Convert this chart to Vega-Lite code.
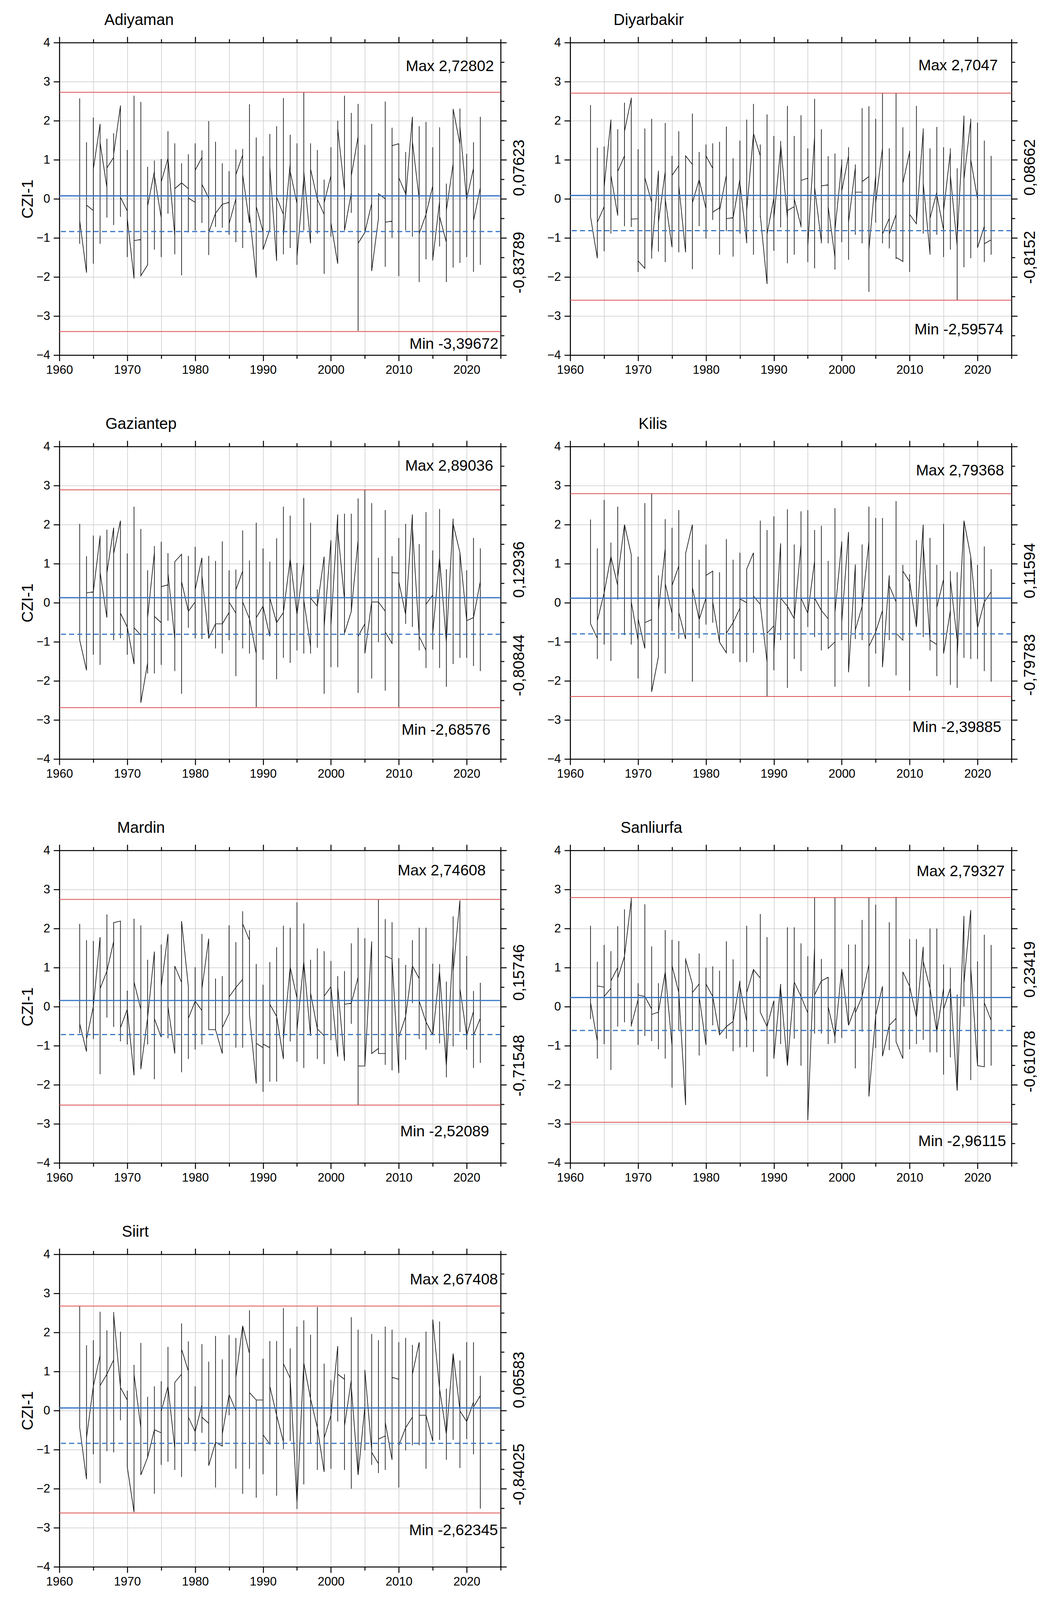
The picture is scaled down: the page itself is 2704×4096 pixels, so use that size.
{
"$schema": "https://vega.github.io/schema/vega-lite/v6.json",
"padding": {"left": 51, "top": 31, "right": 10, "bottom": 10},
"background": "white",
"config": {
  "view": {"stroke": null},
  "axis": {"tickColor": "black", "tickWidth": 2.5, "domainColor": "black", "domainWidth": 2.6, "labelFontSize": 31, "labelColor": "black", "labelFont": "Liberation Sans", "gridColor": "#c9c9c9", "gridWidth": 1.5, "labelOverlap": false, "labelBound": false, "labelFlush": false, "titleFont": "Liberation Sans", "titleFontSize": 40, "titleFontWeight": "normal", "titleColor": "black"},
  "title": {"fontSize": 40, "fontWeight": "normal", "color": "black", "font": "Liberation Sans", "anchor": "start", "frame": "group", "offset": 21, "baseline": "alphabetic"},
  "line": {"color": "#141414", "strokeWidth": 1.7}
},
"datasets": {
"adi": [
{"x":1963,"p1":2.57,"p2":2.57,"p3":-1.15,"p4":-0.56},{"x":1964,"p1":-1.89,"p2":1.45,"p3":-1.89,"p4":-0.16},{"x":1965,"p1":-0.3,"p2":2.08,"p3":-1.66,"p4":0.76},{"x":1966,"p1":1.91,"p2":1.92,"p3":-1.15,"p4":1.44},{"x":1967,"p1":0.29,"p2":1.54,"p3":-0.48,"p4":0.79},{"x":1968,"p1":1.06,"p2":1.68,"p3":-0.67,"p4":1.15},{"x":1969,"p1":2.38,"p2":2.39,"p3":-0.46,"p4":0.04},{"x":1970,"p1":-0.31,"p2":1.25,"p3":-1.49,"p4":-0.5},{"x":1971,"p1":-2.04,"p2":2.64,"p3":-2.04,"p4":-1.07},{"x":1972,"p1":-1.04,"p2":2.48,"p3":-1.97,"p4":-1.97},
{"x":1973,"p1":-1.69,"p2":0.82,"p3":-1.69,"p4":-0.18},{"x":1974,"p1":0.7,"p2":0.98,"p3":-1.3,"p4":0.59},{"x":1975,"p1":-0.48,"p2":1.02,"p3":-1.49,"p4":0.43},{"x":1976,"p1":1.04,"p2":1.73,"p3":-0.38,"p4":1.04},{"x":1977,"p1":-0.95,"p2":1.42,"p3":-1.42,"p4":0.26},{"x":1978,"p1":0.41,"p2":0.91,"p3":-1.96,"p4":0.41},{"x":1979,"p1":0.26,"p2":1.14,"p3":-0.86,"p4":0.02},{"x":1980,"p1":-0.09,"p2":1.42,"p3":-0.81,"p4":0.73},{"x":1981,"p1":1.06,"p2":1.24,"p3":-0.62,"p4":0.37},{"x":1982,"p1":0.02,"p2":1.99,"p3":-1.44,"p4":-0.86},
{"x":1983,"p1":-0.37,"p2":1.46,"p3":-0.72,"p4":-0.37},{"x":1984,"p1":-0.14,"p2":0.91,"p3":-0.74,"p4":-0.14},{"x":1985,"p1":-0.09,"p2":0.71,"p3":-0.92,"p4":-0.64},{"x":1986,"p1":0.0,"p2":1.26,"p3":-1.11,"p4":0.62},{"x":1987,"p1":1.12,"p2":1.28,"p3":-1.26,"p4":0.62},{"x":1988,"p1":-0.62,"p2":2.42,"p3":-0.62,"p4":-0.37},{"x":1989,"p1":-2.02,"p2":1.57,"p3":-2.02,"p4":-0.2},{"x":1990,"p1":-0.84,"p2":1.09,"p3":-1.3,"p4":-1.3},{"x":1991,"p1":-0.78,"p2":1.66,"p3":-0.78,"p4":0.81},{"x":1992,"p1":-1.59,"p2":1.86,"p3":-1.59,"p4":0.04},
{"x":1993,"p1":-0.4,"p2":2.58,"p3":-1.42,"p4":-0.94},{"x":1994,"p1":0.9,"p2":1.64,"p3":-1.26,"p4":0.7},{"x":1995,"p1":-0.12,"p2":1.42,"p3":-1.69,"p4":-1.49},{"x":1996,"p1":0.53,"p2":2.73,"p3":-0.81,"p4":0.7},{"x":1997,"p1":-1.14,"p2":1.42,"p3":-1.14,"p4":0.76},{"x":1998,"p1":-0.01,"p2":1.25,"p3":-0.89,"p4":-0.01},{"x":1999,"p1":-0.4,"p2":0.49,"p3":-1.92,"p4":-0.1},{"x":2000,"p1":0.59,"p2":1.32,"p3":-0.97,"p4":-0.61},{"x":2001,"p1":-1.66,"p2":2.0,"p3":-1.66,"p4":1.8},{"x":2002,"p1":0.21,"p2":2.64,"p3":-0.81,"p4":-0.81},
{"x":2003,"p1":0.15,"p2":2.2,"p3":-0.36,"p4":0.59},{"x":2004,"p1":1.59,"p2":2.43,"p3":-3.38,"p4":-1.14},{"x":2005,"p1":-0.86,"p2":1.38,"p3":-0.86,"p4":-0.86},{"x":2006,"p1":-0.12,"p2":1.92,"p3":-1.85,"p4":-1.85},{"x":2007,"p1":-0.5,"p2":0.13,"p3":-0.5,"p4":0.13},{"x":2008,"p1":0.0,"p2":2.49,"p3":-1.74,"p4":-0.6},{"x":2009,"p1":-0.57,"p2":1.82,"p3":-1.0,"p4":1.36},{"x":2010,"p1":1.41,"p2":1.41,"p3":-1.98,"p4":0.54},{"x":2011,"p1":0.13,"p2":1.2,"p3":-0.81,"p4":0.0},{"x":2012,"p1":2.1,"p2":2.1,"p3":-0.97,"p4":1.47},
{"x":2013,"p1":0.0,"p2":1.86,"p3":-2.13,"p4":-0.89},{"x":2014,"p1":-0.4,"p2":1.97,"p3":-1.55,"p4":-0.4},{"x":2015,"p1":0.33,"p2":1.32,"p3":-1.58,"p4":-1.55},{"x":2016,"p1":-0.07,"p2":1.83,"p3":-1.22,"p4":-0.45},{"x":2017,"p1":-1.11,"p2":0.39,"p3":-2.13,"p4":-0.3},{"x":2018,"p1":0.9,"p2":2.3,"p3":-1.76,"p4":2.3},{"x":2019,"p1":1.4,"p2":2.31,"p3":-1.64,"p4":1.85},{"x":2020,"p1":-0.05,"p2":1.15,"p3":-1.49,"p4":0.0},{"x":2021,"p1":0.78,"p2":1.45,"p3":-1.87,"p4":-0.56},{"x":2022,"p1":0.28,"p2":2.1,"p3":-1.69,"p4":0.28}
],
"diy": [
{"x":1963,"p1":2.4,"p2":2.4,"p3":-0.46,"p4":-0.46},{"x":1964,"p1":-1.52,"p2":1.31,"p3":-1.52,"p4":-0.6},{"x":1965,"p1":-0.2,"p2":1.34,"p3":-1.34,"p4":0.3},{"x":1966,"p1":2.02,"p2":2.03,"p3":-0.89,"p4":0.6},{"x":1967,"p1":-0.42,"p2":1.78,"p3":-0.43,"p4":0.7},{"x":1968,"p1":1.1,"p2":2.46,"p3":-0.7,"p4":1.73},{"x":1969,"p1":2.57,"p2":2.59,"p3":-0.72,"p4":-0.52},{"x":1970,"p1":-0.51,"p2":1.27,"p3":-1.87,"p4":-1.59},{"x":1971,"p1":-1.78,"p2":1.8,"p3":-1.78,"p4":0.54},{"x":1972,"p1":-0.09,"p2":2.05,"p3":-1.53,"p4":-1.36},
{"x":1973,"p1":0.7,"p2":0.72,"p3":-1.35,"p4":-0.6},{"x":1974,"p1":0.7,"p2":1.94,"p3":-1.62,"p4":0.0},{"x":1975,"p1":-1.24,"p2":1.1,"p3":-1.24,"p4":0.6},{"x":1976,"p1":0.85,"p2":1.73,"p3":-1.37,"p4":0.34},{"x":1977,"p1":-1.37,"p2":1.1,"p3":-1.37,"p4":1.1},{"x":1978,"p1":0.88,"p2":2.18,"p3":-1.8,"p4":-0.1},{"x":1979,"p1":0.49,"p2":1.2,"p3":-0.7,"p4":0.49},{"x":1980,"p1":-0.25,"p2":1.39,"p3":-1.02,"p4":1.1},{"x":1981,"p1":0.78,"p2":1.42,"p3":-0.54,"p4":-0.34},{"x":1982,"p1":-0.23,"p2":1.46,"p3":-1.43,"p4":-0.3},
{"x":1983,"p1":0.6,"p2":1.85,"p3":-0.83,"p4":-0.51},{"x":1984,"p1":-0.48,"p2":1.04,"p3":-1.48,"p4":-0.48},{"x":1985,"p1":0.5,"p2":1.49,"p3":-0.89,"p4":0.4},{"x":1986,"p1":-1.1,"p2":2.03,"p3":-1.14,"p4":-0.3},{"x":1987,"p1":1.67,"p2":2.43,"p3":-1.43,"p4":1.67},{"x":1988,"p1":1.1,"p2":1.39,"p3":-0.48,"p4":-0.42},{"x":1989,"p1":-2.18,"p2":2.16,"p3":-2.18,"p4":-0.9},{"x":1990,"p1":0.02,"p2":1.61,"p3":-1.33,"p4":-0.5},{"x":1991,"p1":1.3,"p2":1.48,"p3":-0.73,"p4":1.4},{"x":1992,"p1":-0.5,"p2":2.38,"p3":-1.65,"p4":-0.3},
{"x":1993,"p1":-0.2,"p2":1.61,"p3":-1.43,"p4":0.0},{"x":1994,"p1":-0.7,"p2":2.14,"p3":-0.73,"p4":0.47},{"x":1995,"p1":0.53,"p2":1.29,"p3":-1.62,"p4":-1.2},{"x":1996,"p1":1.6,"p2":2.56,"p3":-1.78,"p4":0.3},{"x":1997,"p1":-1.1,"p2":1.78,"p3":-1.14,"p4":0.33},{"x":1998,"p1":0.36,"p2":1.09,"p3":-1.14,"p4":-0.2},{"x":1999,"p1":-1.5,"p2":1.16,"p3":-1.81,"p4":-0.8},{"x":2000,"p1":0.9,"p2":1.01,"p3":-1.11,"p4":0.2},{"x":2001,"p1":1.1,"p2":1.32,"p3":-1.56,"p4":-0.6},{"x":2002,"p1":0.8,"p2":0.88,"p3":-0.92,"p4":0.17},
{"x":2003,"p1":0.17,"p2":2.32,"p3":-1.14,"p4":0.44},{"x":2004,"p1":0.57,"p2":2.37,"p3":-2.38,"p4":-1.3},{"x":2005,"p1":0.6,"p2":2.05,"p3":-0.61,"p4":-0.1},{"x":2006,"p1":1.3,"p2":2.71,"p3":-1.14,"p4":-0.9},{"x":2007,"p1":-0.5,"p2":1.29,"p3":-1.27,"p4":-0.9},{"x":2008,"p1":-0.4,"p2":2.71,"p3":-1.54,"p4":-1.5},{"x":2009,"p1":-1.6,"p2":1.83,"p3":-1.62,"p4":0.4},{"x":2010,"p1":1.2,"p2":1.23,"p3":-1.87,"p4":-0.4},{"x":2011,"p1":-0.64,"p2":2.38,"p3":-0.64,"p4":-0.6},{"x":2012,"p1":1.75,"p2":1.8,"p3":-0.89,"p4":0.4},
{"x":2013,"p1":-1.4,"p2":1.29,"p3":-1.43,"p4":-0.5},{"x":2014,"p1":0.17,"p2":1.84,"p3":-0.92,"p4":0.1},{"x":2015,"p1":-0.8,"p2":1.32,"p3":-1.49,"p4":-0.3},{"x":2016,"p1":1.2,"p2":1.29,"p3":-1.3,"p4":0.6},{"x":2017,"p1":-1.2,"p2":0.78,"p3":-2.59,"p4":-1.0},{"x":2018,"p1":2.1,"p2":2.13,"p3":-1.75,"p4":0.5},{"x":2019,"p1":2.0,"p2":2.05,"p3":-1.52,"p4":1.0},{"x":2020,"p1":0.0,"p2":1.95,"p3":-1.25,"p4":-1.25},{"x":2021,"p1":-0.7,"p2":1.49,"p3":-1.62,"p4":-1.15},{"x":2022,"p1":-1.05,"p2":1.1,"p3":-1.43,"p4":-1.05}
],
"gaz": [
{"x":1963,"p1":2.02,"p2":2.02,"p3":-0.96,"p4":-0.96},{"x":1964,"p1":-1.73,"p2":1.19,"p3":-1.73,"p4":0.25},{"x":1965,"p1":0.28,"p2":1.72,"p3":-1.33,"p4":0.28},{"x":1966,"p1":1.7,"p2":1.72,"p3":-1.59,"p4":0.78},{"x":1967,"p1":-0.38,"p2":1.87,"p3":-0.38,"p4":0.76},{"x":1968,"p1":1.92,"p2":1.92,"p3":-0.96,"p4":1.26},{"x":1969,"p1":2.1,"p2":2.1,"p3":-0.91,"p4":-0.27},{"x":1970,"p1":-0.62,"p2":1.26,"p3":-1.33,"p4":-0.62},{"x":1971,"p1":-1.57,"p2":2.46,"p3":-1.57,"p4":-0.64},{"x":1972,"p1":-0.83,"p2":1.89,"p3":-2.56,"p4":-2.56},
{"x":1973,"p1":-1.54,"p2":0.83,"p3":-1.81,"p4":-0.38},{"x":1974,"p1":1.29,"p2":1.45,"p3":-1.81,"p4":-0.35},{"x":1975,"p1":-0.51,"p2":1.56,"p3":-1.59,"p4":0.41},{"x":1976,"p1":0.46,"p2":1.27,"p3":-0.46,"p4":0.76},{"x":1977,"p1":-0.93,"p2":1.05,"p3":-1.75,"p4":1.05},{"x":1978,"p1":1.24,"p2":1.24,"p3":-2.33,"p4":0.54},{"x":1979,"p1":-0.22,"p2":1.2,"p3":-0.64,"p4":-0.22},{"x":1980,"p1":0.02,"p2":1.43,"p3":-0.91,"p4":0.33},{"x":1981,"p1":1.15,"p2":1.15,"p3":-0.93,"p4":0.7},{"x":1982,"p1":-0.91,"p2":1.2,"p3":-0.92,"p4":-0.91},
{"x":1983,"p1":-0.54,"p2":1.07,"p3":-1.17,"p4":-0.54},{"x":1984,"p1":-0.54,"p2":1.57,"p3":-1.3,"p4":-0.54},{"x":1985,"p1":-0.25,"p2":0.83,"p3":-0.96,"p4":0.02},{"x":1986,"p1":-0.27,"p2":0.85,"p3":-1.88,"p4":0.33},{"x":1987,"p1":0.81,"p2":1.85,"p3":-1.17,"p4":0.02},{"x":1988,"p1":-0.41,"p2":1.08,"p3":-1.3,"p4":-0.41},{"x":1989,"p1":-1.3,"p2":2.05,"p3":-2.67,"p4":-0.38},{"x":1990,"p1":-0.09,"p2":1.39,"p3":-1.46,"p4":-0.09},{"x":1991,"p1":-0.86,"p2":1.05,"p3":-0.86,"p4":0.12},{"x":1992,"p1":-0.51,"p2":1.65,"p3":-1.96,"p4":-0.51},
{"x":1993,"p1":-0.25,"p2":2.46,"p3":-1.41,"p4":-0.25},{"x":1994,"p1":1.12,"p2":2.23,"p3":-1.54,"p4":1.12},{"x":1995,"p1":-0.3,"p2":1.02,"p3":-1.22,"p4":-0.3},{"x":1996,"p1":1.02,"p2":2.68,"p3":-1.3,"p4":0.07},{"x":1997,"p1":-1.12,"p2":2.05,"p3":-1.3,"p4":0.12},{"x":1998,"p1":-0.09,"p2":0.34,"p3":-1.15,"p4":-0.09},{"x":1999,"p1":1.18,"p2":1.18,"p3":-2.33,"p4":-0.62},{"x":2000,"p1":1.6,"p2":1.6,"p3":-1.65,"p4":-0.59},{"x":2001,"p1":2.26,"p2":2.26,"p3":-1.65,"p4":1.86},{"x":2002,"p1":0.07,"p2":2.28,"p3":-0.83,"p4":-0.78},
{"x":2003,"p1":-0.22,"p2":2.28,"p3":-0.22,"p4":-0.22},{"x":2004,"p1":1.6,"p2":2.67,"p3":-2.31,"p4":-0.86},{"x":2005,"p1":-0.54,"p2":2.9,"p3":-1.3,"p4":-1.3},{"x":2006,"p1":0.02,"p2":2.55,"p3":-1.94,"p4":0.02},{"x":2007,"p1":0.02,"p2":1.15,"p3":-1.01,"p4":0.02},{"x":2008,"p1":-0.22,"p2":2.37,"p3":-2.25,"p4":-0.75},{"x":2009,"p1":-1.04,"p2":1.19,"p3":-1.04,"p4":0.77},{"x":2010,"p1":0.76,"p2":1.66,"p3":-2.67,"p4":0.54},{"x":2011,"p1":-0.3,"p2":2.02,"p3":-0.54,"p4":-0.3},{"x":2012,"p1":2.26,"p2":2.26,"p3":-0.62,"p4":1.94},
{"x":2013,"p1":-0.86,"p2":1.5,"p3":-1.22,"p4":-0.86},{"x":2014,"p1":-1.22,"p2":2.32,"p3":-1.67,"p4":-0.04},{"x":2015,"p1":0.2,"p2":1.34,"p3":-1.2,"p4":-0.78},{"x":2016,"p1":1.15,"p2":2.4,"p3":-1.67,"p4":1.15},{"x":2017,"p1":-1.01,"p2":0.86,"p3":-2.15,"p4":-0.99},{"x":2018,"p1":2.15,"p2":2.15,"p3":-1.57,"p4":2.02},{"x":2019,"p1":1.28,"p2":1.28,"p3":-1.41,"p4":1.28},{"x":2020,"p1":-0.46,"p2":0.83,"p3":-1.41,"p4":-0.46},{"x":2021,"p1":-0.38,"p2":1.66,"p3":-1.62,"p4":-0.38},{"x":2022,"p1":0.54,"p2":1.39,"p3":-1.75,"p4":0.54}
],
"kil": [
{"x":1963,"p1":2.13,"p2":2.13,"p3":-0.54,"p4":-0.54},{"x":1964,"p1":-0.91,"p2":1.39,"p3":-1.44,"p4":-0.46},{"x":1965,"p1":0.25,"p2":2.63,"p3":-1.07,"p4":0.25},{"x":1966,"p1":1.18,"p2":1.54,"p3":-1.49,"p4":1.18},{"x":1967,"p1":0.44,"p2":2.46,"p3":0.08,"p4":0.65},{"x":1968,"p1":2.0,"p2":2.0,"p3":-0.83,"p4":2.0},{"x":1969,"p1":1.23,"p2":1.23,"p3":-1.07,"p4":0.02},{"x":1970,"p1":-0.96,"p2":1.18,"p3":-1.94,"p4":-0.41},{"x":1971,"p1":-1.17,"p2":2.55,"p3":-1.17,"p4":-0.51},{"x":1972,"p1":-0.43,"p2":2.79,"p3":-2.28,"p4":-2.28},
{"x":1973,"p1":-1.38,"p2":0.7,"p3":-1.38,"p4":-0.2},{"x":1974,"p1":1.39,"p2":2.14,"p3":-1.81,"p4":0.49},{"x":1975,"p1":-0.27,"p2":1.92,"p3":-0.72,"p4":0.44},{"x":1976,"p1":0.94,"p2":2.37,"p3":-0.92,"p4":-0.25},{"x":1977,"p1":-0.93,"p2":1.26,"p3":-0.93,"p4":1.26},{"x":1978,"p1":2.0,"p2":2.0,"p3":-2.02,"p4":0.39},{"x":1979,"p1":-0.43,"p2":1.1,"p3":-0.91,"p4":-0.43},{"x":1980,"p1":0.12,"p2":1.49,"p3":-0.56,"p4":0.7},{"x":1981,"p1":0.81,"p2":0.81,"p3":-0.51,"p4":0.02},{"x":1982,"p1":-1.01,"p2":0.78,"p3":-1.01,"p4":-1.01},
{"x":1983,"p1":-1.28,"p2":1.63,"p3":-1.28,"p4":-0.78},{"x":1984,"p1":-0.51,"p2":1.1,"p3":-1.3,"p4":-0.51},{"x":1985,"p1":-0.14,"p2":1.28,"p3":-1.52,"p4":0.1},{"x":1986,"p1":0.0,"p2":0.86,"p3":-1.52,"p4":0.86},{"x":1987,"p1":1.28,"p2":1.28,"p3":-1.28,"p4":0.17},{"x":1988,"p1":-0.04,"p2":2.1,"p3":-0.04,"p4":-0.04},{"x":1989,"p1":-1.52,"p2":1.86,"p3":-2.4,"p4":-0.78},{"x":1990,"p1":-0.59,"p2":2.21,"p3":-1.73,"p4":-1.25},{"x":1991,"p1":1.52,"p2":1.52,"p3":-0.96,"p4":0.12},{"x":1992,"p1":-0.09,"p2":2.39,"p3":-2.18,"p4":-0.09},
{"x":1993,"p1":-0.41,"p2":1.49,"p3":-1.44,"p4":-0.41},{"x":1994,"p1":1.49,"p2":2.34,"p3":-1.75,"p4":0.12},{"x":1995,"p1":-0.27,"p2":2.37,"p3":-0.62,"p4":-0.27},{"x":1996,"p1":1.07,"p2":1.86,"p3":-0.88,"p4":0.12},{"x":1997,"p1":-0.2,"p2":1.97,"p3":-1.22,"p4":-0.2},{"x":1998,"p1":-0.41,"p2":1.07,"p3":-1.17,"p4":-1.17},{"x":1999,"p1":-1.0,"p2":2.42,"p3":-2.15,"p4":-0.25},{"x":2000,"p1":1.55,"p2":1.57,"p3":-0.96,"p4":-0.5},{"x":2001,"p1":1.81,"p2":1.81,"p3":-1.78,"p4":-1.78},{"x":2002,"p1":0.97,"p2":0.98,"p3":-0.93,"p4":-0.7},
{"x":2003,"p1":-0.09,"p2":1.49,"p3":-0.96,"p4":-0.09},{"x":2004,"p1":1.57,"p2":2.46,"p3":-2.15,"p4":-1.12},{"x":2005,"p1":-0.75,"p2":2.17,"p3":-1.3,"p4":-0.75},{"x":2006,"p1":-0.2,"p2":2.17,"p3":-1.65,"p4":-1.65},{"x":2007,"p1":0.7,"p2":0.7,"p3":-0.96,"p4":0.44},{"x":2008,"p1":0.02,"p2":2.6,"p3":-1.86,"p4":-0.78},{"x":2009,"p1":-0.96,"p2":0.97,"p3":-0.96,"p4":0.81},{"x":2010,"p1":0.54,"p2":0.73,"p3":-2.25,"p4":0.54},{"x":2011,"p1":-0.62,"p2":1.6,"p3":-0.62,"p4":-0.62},{"x":2012,"p1":2.0,"p2":2.0,"p3":-0.88,"p4":1.49},
{"x":2013,"p1":-0.96,"p2":1.66,"p3":-1.22,"p4":-0.96},{"x":2014,"p1":-1.07,"p2":0.97,"p3":-1.88,"p4":-0.12},{"x":2015,"p1":0.6,"p2":2.02,"p3":-1.3,"p4":-1.3},{"x":2016,"p1":-0.2,"p2":0.81,"p3":-2.1,"p4":0.6},{"x":2017,"p1":-0.96,"p2":0.78,"p3":-2.18,"p4":-1.38},{"x":2018,"p1":2.1,"p2":2.1,"p3":-1.41,"p4":2.1},{"x":2019,"p1":1.18,"p2":1.18,"p3":-1.44,"p4":1.18},{"x":2020,"p1":-0.64,"p2":0.97,"p3":-1.44,"p4":-0.64},{"x":2021,"p1":0.02,"p2":1.44,"p3":-1.75,"p4":0.02},{"x":2022,"p1":0.28,"p2":0.86,"p3":-2.02,"p4":0.28}
],
"mar": [
{"x":1963,"p1":2.12,"p2":2.12,"p3":-0.68,"p4":-0.44},{"x":1964,"p1":-1.15,"p2":1.7,"p3":-1.15,"p4":-0.83},{"x":1965,"p1":0.0,"p2":1.68,"p3":-0.83,"p4":0.0},{"x":1966,"p1":1.78,"p2":1.78,"p3":-1.73,"p4":0.46},{"x":1967,"p1":0.91,"p2":2.36,"p3":-0.28,"p4":0.91},{"x":1968,"p1":1.67,"p2":2.15,"p3":-0.52,"p4":2.15},{"x":1969,"p1":2.19,"p2":2.19,"p3":-0.89,"p4":-0.54},{"x":1970,"p1":-0.07,"p2":0.41,"p3":-0.97,"p4":-0.07},{"x":1971,"p1":-1.76,"p2":2.25,"p3":-1.76,"p4":0.63},{"x":1972,"p1":-0.07,"p2":2.08,"p3":-1.6,"p4":-1.6},
{"x":1973,"p1":-0.28,"p2":1.2,"p3":-0.97,"p4":-0.28},{"x":1974,"p1":1.41,"p2":1.41,"p3":-1.86,"p4":-0.31},{"x":1975,"p1":-0.78,"p2":1.59,"p3":-0.78,"p4":0.51},{"x":1976,"p1":1.86,"p2":1.86,"p3":-0.81,"p4":0.0},{"x":1977,"p1":-1.2,"p2":1.04,"p3":-1.2,"p4":1.04},{"x":1978,"p1":0.62,"p2":2.19,"p3":-1.68,"p4":2.19},{"x":1979,"p1":0.51,"p2":0.51,"p3":-1.34,"p4":-0.3},{"x":1980,"p1":0.14,"p2":1.01,"p3":-1.1,"p4":0.14},{"x":1981,"p1":-0.1,"p2":1.86,"p3":-0.97,"p4":0.46},{"x":1982,"p1":1.74,"p2":1.74,"p3":-0.59,"p4":-0.59},
{"x":1983,"p1":-0.59,"p2":0.72,"p3":-0.59,"p4":-0.59},{"x":1984,"p1":-1.2,"p2":0.78,"p3":-1.2,"p4":-0.54},{"x":1985,"p1":-0.17,"p2":2.08,"p3":-0.17,"p4":0.25},{"x":1986,"p1":0.49,"p2":1.65,"p3":-1.05,"p4":0.49},{"x":1987,"p1":0.7,"p2":2.44,"p3":-1.05,"p4":2.12},{"x":1988,"p1":1.7,"p2":1.96,"p3":-0.2,"p4":-0.2},{"x":1989,"p1":-1.97,"p2":1.09,"p3":-1.97,"p4":-0.94},{"x":1990,"p1":-1.05,"p2":0.56,"p3":-2.18,"p4":-0.96},{"x":1991,"p1":-1.05,"p2":1.14,"p3":-1.92,"p4":0.06},{"x":1992,"p1":-0.25,"p2":1.52,"p3":-1.92,"p4":-0.25},
{"x":1993,"p1":-1.34,"p2":2.07,"p3":-1.34,"p4":-0.83},{"x":1994,"p1":1.01,"p2":2.02,"p3":-0.89,"p4":1.01},{"x":1995,"p1":0.22,"p2":2.67,"p3":-1.41,"p4":-0.6},{"x":1996,"p1":1.15,"p2":2.13,"p3":-1.57,"p4":1.15},{"x":1997,"p1":-0.75,"p2":1.2,"p3":-0.75,"p4":0.35},{"x":1998,"p1":-0.57,"p2":1.49,"p3":-1.34,"p4":-0.57},{"x":1999,"p1":-0.75,"p2":1.42,"p3":-1.47,"p4":0.27},{"x":2000,"p1":0.51,"p2":1.17,"p3":-0.86,"p4":0.51},{"x":2001,"p1":-1.28,"p2":0.78,"p3":-1.28,"p4":0.51},{"x":2002,"p1":-1.39,"p2":0.91,"p3":-1.39,"p4":0.06},
{"x":2003,"p1":0.09,"p2":1.62,"p3":-0.44,"p4":0.09},{"x":2004,"p1":0.75,"p2":2.02,"p3":-2.52,"p4":-1.52},{"x":2005,"p1":-1.52,"p2":1.75,"p3":-1.52,"p4":-1.52},{"x":2006,"p1":1.67,"p2":1.67,"p3":-1.2,"p4":-1.2},{"x":2007,"p1":-1.07,"p2":2.74,"p3":-1.2,"p4":-1.2},{"x":2008,"p1":-1.2,"p2":2.24,"p3":-1.49,"p4":1.3},{"x":2009,"p1":1.22,"p2":2.16,"p3":-1.63,"p4":1.22},{"x":2010,"p1":-1.7,"p2":1.24,"p3":-1.7,"p4":-0.78},{"x":2011,"p1":-0.25,"p2":1.07,"p3":-1.36,"p4":-0.25},{"x":2012,"p1":1.04,"p2":1.7,"p3":0.09,"p4":1.04},
{"x":2013,"p1":0.72,"p2":2.02,"p3":-0.83,"p4":0.14},{"x":2014,"p1":-0.39,"p2":2.02,"p3":-1.1,"p4":-0.39},{"x":2015,"p1":-0.73,"p2":1.1,"p3":-0.73,"p4":-0.73},{"x":2016,"p1":0.91,"p2":1.09,"p3":-0.94,"p4":0.91},{"x":2017,"p1":-1.52,"p2":0.64,"p3":-1.81,"p4":-1.52},{"x":2018,"p1":1.57,"p2":2.31,"p3":-1.02,"p4":0.9},{"x":2019,"p1":2.72,"p2":2.72,"p3":-0.65,"p4":0.46},{"x":2020,"p1":-0.73,"p2":1.3,"p3":-1.1,"p4":-0.73},{"x":2021,"p1":-0.12,"p2":0.4,"p3":-1.57,"p4":-0.73},{"x":2022,"p1":-0.3,"p2":0.61,"p3":-1.44,"p4":-0.3}
],
"san": [
{"x":1963,"p1":2.07,"p2":2.07,"p3":-0.32,"p4":0.1},{"x":1964,"p1":-0.88,"p2":1.15,"p3":-1.33,"p4":0.53},{"x":1965,"p1":0.5,"p2":1.58,"p3":-0.96,"p4":0.26},{"x":1966,"p1":0.47,"p2":1.42,"p3":-1.62,"p4":0.66},{"x":1967,"p1":1.0,"p2":2.06,"p3":-0.51,"p4":0.73},{"x":1968,"p1":1.29,"p2":2.49,"p3":-0.4,"p4":1.29},{"x":1969,"p1":2.74,"p2":2.79,"p3":-0.51,"p4":-0.48},{"x":1970,"p1":0.18,"p2":0.6,"p3":-0.98,"p4":0.3},{"x":1971,"p1":0.26,"p2":2.62,"p3":-0.75,"p4":0.26},{"x":1972,"p1":-0.06,"p2":1.54,"p3":-0.88,"p4":-0.2},
{"x":1973,"p1":-0.14,"p2":0.6,"p3":-1.09,"p4":-0.14},{"x":1974,"p1":0.89,"p2":1.96,"p3":-1.33,"p4":0.89},{"x":1975,"p1":-1.0,"p2":1.71,"p3":-2.07,"p4":1.05},{"x":1976,"p1":0.36,"p2":1.68,"p3":-0.61,"p4":0.36},{"x":1977,"p1":-2.52,"p2":1.24,"p3":-2.52,"p4":1.21},{"x":1978,"p1":0.58,"p2":0.58,"p3":-0.61,"p4":0.36},{"x":1979,"p1":0.58,"p2":1.36,"p3":-1.25,"p4":0.26},{"x":1980,"p1":-0.98,"p2":1.0,"p3":-0.98,"p4":0.58},{"x":1981,"p1":0.26,"p2":1.03,"p3":-0.48,"p4":0.26},{"x":1982,"p1":-0.72,"p2":0.92,"p3":-0.72,"p4":-0.72},
{"x":1983,"p1":-0.51,"p2":1.67,"p3":-0.82,"p4":-0.51},{"x":1984,"p1":-0.38,"p2":1.21,"p3":-1.14,"p4":-0.38},{"x":1985,"p1":0.66,"p2":0.66,"p3":-1.04,"p4":0.52},{"x":1986,"p1":-0.38,"p2":2.07,"p3":-1.04,"p4":0.36},{"x":1987,"p1":0.95,"p2":0.95,"p3":-1.16,"p4":0.95},{"x":1988,"p1":0.73,"p2":2.37,"p3":-0.14,"p4":-0.14},{"x":1989,"p1":-0.51,"p2":1.78,"p3":-1.79,"p4":-0.51},{"x":1990,"p1":0.15,"p2":0.15,"p3":-1.33,"p4":-1.33},{"x":1991,"p1":0.58,"p2":0.58,"p3":-0.96,"p4":0.47},{"x":1992,"p1":-1.51,"p2":2.03,"p3":-1.51,"p4":-1.51},
{"x":1993,"p1":0.63,"p2":2.03,"p3":-0.82,"p4":0.63},{"x":1994,"p1":0.26,"p2":1.62,"p3":-1.51,"p4":0.26},{"x":1995,"p1":-0.16,"p2":1.29,"p3":-2.91,"p4":-2.91},{"x":1996,"p1":1.53,"p2":2.79,"p3":-0.69,"p4":0.3},{"x":1997,"p1":0.66,"p2":1.22,"p3":-0.69,"p4":0.66},{"x":1998,"p1":0.75,"p2":0.75,"p3":-0.96,"p4":0.0},{"x":1999,"p1":-0.77,"p2":2.8,"p3":-0.93,"p4":-0.77},{"x":2000,"p1":0.97,"p2":0.97,"p3":-0.8,"p4":0.97},{"x":2001,"p1":-0.48,"p2":1.59,"p3":-0.48,"p4":-0.48},{"x":2002,"p1":0.0,"p2":1.59,"p3":-1.58,"p4":-0.16},
{"x":2003,"p1":0.26,"p2":2.22,"p3":-0.64,"p4":0.26},{"x":2004,"p1":1.08,"p2":2.79,"p3":-2.3,"p4":-2.3},{"x":2005,"p1":-0.22,"p2":2.61,"p3":-1.06,"p4":-0.22},{"x":2006,"p1":0.52,"p2":0.52,"p3":-1.27,"p4":-1.27},{"x":2007,"p1":-0.48,"p2":2.16,"p3":-1.11,"p4":-0.48},{"x":2008,"p1":-0.3,"p2":2.81,"p3":-0.9,"p4":-0.9},{"x":2009,"p1":-1.33,"p2":0.89,"p3":-1.33,"p4":0.89},{"x":2010,"p1":0.52,"p2":1.73,"p3":-1.09,"p4":0.52},{"x":2011,"p1":-0.27,"p2":1.73,"p3":-0.96,"p4":-0.27},{"x":2012,"p1":1.53,"p2":1.53,"p3":-0.85,"p4":1.16},
{"x":2013,"p1":0.47,"p2":2.0,"p3":-1.17,"p4":0.47},{"x":2014,"p1":-0.64,"p2":2.0,"p3":-1.17,"p4":-0.64},{"x":2015,"p1":0.47,"p2":1.08,"p3":-1.74,"p4":-0.06},{"x":2016,"p1":0.47,"p2":1.0,"p3":-1.3,"p4":0.47},{"x":2017,"p1":-2.15,"p2":0.31,"p3":-2.15,"p4":-2.15},{"x":2018,"p1":2.32,"p2":2.32,"p3":0.0,"p4":0.6},{"x":2019,"p1":2.47,"p2":2.47,"p3":-1.88,"p4":1.0},{"x":2020,"p1":-1.51,"p2":1.16,"p3":-1.51,"p4":-1.51},{"x":2021,"p1":-1.54,"p2":1.84,"p3":-1.54,"p4":0.1},{"x":2022,"p1":-0.35,"p2":1.58,"p3":-1.51,"p4":-0.35}
],
"sii": [
{"x":1963,"p1":2.68,"p2":2.68,"p3":-0.44,"p4":-0.44},{"x":1964,"p1":-1.76,"p2":1.67,"p3":-1.76,"p4":-0.7},{"x":1965,"p1":0.62,"p2":1.8,"p3":-1.12,"p4":0.62},{"x":1966,"p1":1.41,"p2":2.53,"p3":-1.86,"p4":0.64},{"x":1967,"p1":0.93,"p2":2.05,"p3":-1.04,"p4":0.93},{"x":1968,"p1":1.3,"p2":2.52,"p3":-1.07,"p4":2.46},{"x":1969,"p1":0.59,"p2":2.02,"p3":-0.25,"p4":0.59},{"x":1970,"p1":0.27,"p2":0.51,"p3":-1.44,"p4":-1.44},{"x":1971,"p1":-2.6,"p2":1.17,"p3":-2.6,"p4":0.93},{"x":1972,"p1":-0.44,"p2":1.73,"p3":-1.65,"p4":-1.65},
{"x":1973,"p1":-1.2,"p2":0.35,"p3":-1.2,"p4":-1.2},{"x":1974,"p1":-0.49,"p2":0.62,"p3":-2.13,"p4":-0.49},{"x":1975,"p1":-0.57,"p2":0.75,"p3":-1.39,"p4":-0.02},{"x":1976,"p1":0.62,"p2":1.63,"p3":-1.31,"p4":0.62},{"x":1977,"p1":-0.97,"p2":0.72,"p3":-1.52,"p4":0.72},{"x":1978,"p1":0.93,"p2":2.23,"p3":-1.7,"p4":1.57},{"x":1979,"p1":1.01,"p2":1.77,"p3":-0.83,"p4":-0.17},{"x":1980,"p1":-0.54,"p2":0.62,"p3":-1.04,"p4":-0.54},{"x":1981,"p1":0.14,"p2":1.7,"p3":-0.57,"p4":-0.17},{"x":1982,"p1":-0.33,"p2":1.25,"p3":-1.41,"p4":-1.41},
{"x":1983,"p1":-0.81,"p2":1.91,"p3":-1.97,"p4":-0.81},{"x":1984,"p1":-0.91,"p2":1.31,"p3":-0.91,"p4":-0.6},{"x":1985,"p1":0.41,"p2":1.93,"p3":-0.12,"p4":0.41},{"x":1986,"p1":0.0,"p2":1.86,"p3":-1.49,"p4":0.85},{"x":1987,"p1":2.17,"p2":2.17,"p3":-2.13,"p4":2.17},{"x":1988,"p1":1.46,"p2":2.57,"p3":-1.49,"p4":0.46},{"x":1989,"p1":0.27,"p2":0.27,"p3":-2.23,"p4":0.27},{"x":1990,"p1":0.27,"p2":1.33,"p3":-1.63,"p4":-0.62},{"x":1991,"p1":-0.86,"p2":1.78,"p3":-0.86,"p4":0.62},{"x":1992,"p1":-0.12,"p2":1.78,"p3":-2.18,"p4":-0.12},
{"x":1993,"p1":-0.8,"p2":2.62,"p3":-0.99,"p4":1.2},{"x":1994,"p1":0.83,"p2":1.59,"p3":-0.78,"p4":0.83},{"x":1995,"p1":-2.36,"p2":2.15,"p3":-2.52,"p4":-2.36},{"x":1996,"p1":1.22,"p2":2.31,"p3":-1.89,"p4":1.22},{"x":1997,"p1":0.3,"p2":1.94,"p3":-0.83,"p4":0.3},{"x":1998,"p1":-0.44,"p2":2.65,"p3":-1.52,"p4":-0.44},{"x":1999,"p1":-1.57,"p2":1.2,"p3":-1.57,"p4":-0.7},{"x":2000,"p1":-0.12,"p2":0.78,"p3":-1.49,"p4":-0.12},{"x":2001,"p1":1.65,"p2":1.65,"p3":-0.28,"p4":0.93},{"x":2002,"p1":0.8,"p2":0.93,"p3":-1.52,"p4":-0.39},
{"x":2003,"p1":0.78,"p2":2.39,"p3":-2.0,"p4":0.62},{"x":2004,"p1":-1.65,"p2":2.07,"p3":-1.65,"p4":-1.65},{"x":2005,"p1":0.1,"p2":1.04,"p3":-1.02,"p4":1.04},{"x":2006,"p1":-1.02,"p2":1.96,"p3":-1.39,"p4":-1.07},{"x":2007,"p1":-1.36,"p2":1.8,"p3":-1.6,"p4":-0.73},{"x":2008,"p1":-0.65,"p2":2.15,"p3":-1.52,"p4":-0.3},{"x":2009,"p1":-1.26,"p2":2.07,"p3":-1.26,"p4":0.85},{"x":2010,"p1":0.8,"p2":1.75,"p3":-1.97,"p4":-0.89},{"x":2011,"p1":-0.44,"p2":1.86,"p3":-1.02,"p4":-0.44},{"x":2012,"p1":-0.17,"p2":1.68,"p3":-0.89,"p4":0.93},
{"x":2013,"p1":1.75,"p2":1.75,"p3":-0.89,"p4":-0.12},{"x":2014,"p1":-0.12,"p2":2.02,"p3":-1.49,"p4":-0.12},{"x":2015,"p1":-0.78,"p2":2.33,"p3":-0.78,"p4":2.33},{"x":2016,"p1":0.56,"p2":2.28,"p3":-0.75,"p4":0.56},{"x":2017,"p1":-0.6,"p2":0.56,"p3":-1.26,"p4":-0.6},{"x":2018,"p1":1.46,"p2":1.46,"p3":-0.75,"p4":1.46},{"x":2019,"p1":0.01,"p2":1.28,"p3":-1.47,"p4":-0.01},{"x":2020,"p1":-0.28,"p2":1.75,"p3":-0.73,"p4":-0.28},{"x":2021,"p1":0.22,"p2":1.75,"p3":-1.12,"p4":0.09},{"x":2022,"p1":0.38,"p2":0.89,"p3":-2.51,"p4":0.38}
]
},
"columns": 2,
"spacing": {"row": 234, "column": 178},
"bounds": "flush",
"concat": [
{"width": 1130, "height": 800, "title": {"text": "Adiyaman", "dx": 115},
 "layer": [
  {"data": {"name": "adi"}, "transform": [{"fold": ["p1","p2","p3","p4"]}], "mark": {"type": "line"},
   "encoding": {"x": {"field": "x", "type": "quantitative", "scale": {"domain": [1960,2025], "nice": false, "zero": false}, "axis": {"orient": "bottom", "values": [1960,1965,1970,1975,1980,1985,1990,1995,2000,2005,2010,2015,2020,2025], "format": "d", "labelExpr": "datum.value % 10 == 0 ? datum.label : ''", "grid": true, "tickSize": {"condition": {"test": "datum.value % 10 == 0", "value": 15}, "value": 9}, "labelPadding": 8, "title": null}},
    "y": {"field": "value", "type": "quantitative", "scale": {"domain": [-4,4], "nice": false, "zero": false}, "axis": {"orient": "left", "values": [-4,-3.5,-3,-2.5,-2,-1.5,-1,-0.5,0,0.5,1,1.5,2,2.5,3,3.5,4], "format": "d", "labelExpr": "datum.value % 1 == 0 ? datum.label : ''", "grid": true, "tickSize": {"condition": {"test": "datum.value % 1 == 0", "value": 15}, "value": 9}, "labelPadding": 9, "title": "CZI-1", "titlePadding": 1}},
    "order": [{"field": "x", "type": "quantitative"}, {"field": "key", "type": "ordinal"}]}},
  {"data": {"values": [{"v": 2.72802}, {"v": -3.39672}]}, "mark": {"type": "rule", "color": "#dc4c4c", "strokeWidth": 2},
   "encoding": {"y": {"field": "v", "type": "quantitative", "scale": {"domain": [-4,4], "nice": false, "zero": false}, "axis": {"orient": "right", "values": [-4,-3.5,-3,-2.5,-2,-1.5,-1,-0.5,0,0.5,1,1.5,2,2.5,3,3.5,4,0.07623,-0.83789], "labelExpr": "datum.value == 0.07623 ? '0,07623' : datum.value == -0.83789 ? '-0,83789' : ''", "labelAngle": 270, "labelAlign": {"condition": {"test": "datum.value < -0.3", "value": "right"}, "value": "left"}, "labelBaseline": "top", "labelFontSize": 40, "labelPadding": 18, "grid": false, "tickSize": {"condition": {"test": "datum.value % 1 == 0", "value": 15}, "value": 9}, "tickOpacity": {"condition": {"test": "datum.value % 0.5 != 0", "value": 0}, "value": 1}, "title": null}}}},
  {"data": {"values": [{"v": 0.07623}]}, "mark": {"type": "rule", "color": "#3b78c6", "strokeWidth": 3.2}, "encoding": {"y": {"field": "v", "type": "quantitative", "scale": {"domain": [-4,4], "nice": false, "zero": false}, "axis": null}}},
  {"data": {"values": [{"v": -0.83789}]}, "mark": {"type": "rule", "color": "#3b78c6", "strokeWidth": 3, "strokeDash": [13, 8]}, "encoding": {"y": {"field": "v", "type": "quantitative", "scale": {"domain": [-4,4], "nice": false, "zero": false}, "axis": null}}},
  {"data": {"values": [{"t": "Max 2,72802", "x": 2024.0, "y": 3.39}, {"t": "Min -3,39672", "x": 2024.66, "y": -3.72}]}, "mark": {"type": "text", "align": "right", "baseline": "middle", "fontSize": 39, "color": "black", "font": "Liberation Sans"},
   "encoding": {"x": {"field": "x", "type": "quantitative", "scale": {"domain": [1960,2025], "nice": false, "zero": false}, "axis": {"orient": "top", "values": [1960,1965,1970,1975,1980,1985,1990,1995,2000,2005,2010,2015,2020,2025], "labels": false, "grid": false, "tickSize": {"condition": {"test": "datum.value % 10 == 0", "value": 15}, "value": 9}, "title": null}},
    "y": {"field": "y", "type": "quantitative", "scale": {"domain": [-4,4], "nice": false, "zero": false}, "axis": null}, "text": {"field": "t", "type": "nominal"}}}
 ],
 "resolve": {"axis": {"x": "independent", "y": "independent"}}},
{"width": 1130, "height": 800, "title": {"text": "Diyarbakir", "dx": 111},
 "layer": [
  {"data": {"name": "diy"}, "transform": [{"fold": ["p1","p2","p3","p4"]}], "mark": {"type": "line"},
   "encoding": {"x": {"field": "x", "type": "quantitative", "scale": {"domain": [1960,2025], "nice": false, "zero": false}, "axis": {"orient": "bottom", "values": [1960,1965,1970,1975,1980,1985,1990,1995,2000,2005,2010,2015,2020,2025], "format": "d", "labelExpr": "datum.value % 10 == 0 ? datum.label : ''", "grid": true, "tickSize": {"condition": {"test": "datum.value % 10 == 0", "value": 15}, "value": 9}, "labelPadding": 8, "title": null}},
    "y": {"field": "value", "type": "quantitative", "scale": {"domain": [-4,4], "nice": false, "zero": false}, "axis": {"orient": "left", "values": [-4,-3.5,-3,-2.5,-2,-1.5,-1,-0.5,0,0.5,1,1.5,2,2.5,3,3.5,4], "format": "d", "labelExpr": "datum.value % 1 == 0 ? datum.label : ''", "grid": true, "tickSize": {"condition": {"test": "datum.value % 1 == 0", "value": 15}, "value": 9}, "labelPadding": 9, "title": null}},
    "order": [{"field": "x", "type": "quantitative"}, {"field": "key", "type": "ordinal"}]}},
  {"data": {"values": [{"v": 2.7047}, {"v": -2.59574}]}, "mark": {"type": "rule", "color": "#dc4c4c", "strokeWidth": 2},
   "encoding": {"y": {"field": "v", "type": "quantitative", "scale": {"domain": [-4,4], "nice": false, "zero": false}, "axis": {"orient": "right", "values": [-4,-3.5,-3,-2.5,-2,-1.5,-1,-0.5,0,0.5,1,1.5,2,2.5,3,3.5,4,0.08662,-0.8152], "labelExpr": "datum.value == 0.08662 ? '0,08662' : datum.value == -0.8152 ? '-0,8152' : ''", "labelAngle": 270, "labelAlign": {"condition": {"test": "datum.value < -0.3", "value": "right"}, "value": "left"}, "labelBaseline": "top", "labelFontSize": 40, "labelPadding": 18, "grid": false, "tickSize": {"condition": {"test": "datum.value % 1 == 0", "value": 15}, "value": 9}, "tickOpacity": {"condition": {"test": "datum.value % 0.5 != 0", "value": 0}, "value": 1}, "title": null}}}},
  {"data": {"values": [{"v": 0.08662}]}, "mark": {"type": "rule", "color": "#3b78c6", "strokeWidth": 3.2}, "encoding": {"y": {"field": "v", "type": "quantitative", "scale": {"domain": [-4,4], "nice": false, "zero": false}, "axis": null}}},
  {"data": {"values": [{"v": -0.8152}]}, "mark": {"type": "rule", "color": "#3b78c6", "strokeWidth": 3, "strokeDash": [13, 8]}, "encoding": {"y": {"field": "v", "type": "quantitative", "scale": {"domain": [-4,4], "nice": false, "zero": false}, "axis": null}}},
  {"data": {"values": [{"t": "Max 2,7047", "x": 2023.0, "y": 3.41}, {"t": "Min -2,59574", "x": 2023.8, "y": -3.35}]}, "mark": {"type": "text", "align": "right", "baseline": "middle", "fontSize": 39, "color": "black", "font": "Liberation Sans"},
   "encoding": {"x": {"field": "x", "type": "quantitative", "scale": {"domain": [1960,2025], "nice": false, "zero": false}, "axis": {"orient": "top", "values": [1960,1965,1970,1975,1980,1985,1990,1995,2000,2005,2010,2015,2020,2025], "labels": false, "grid": false, "tickSize": {"condition": {"test": "datum.value % 10 == 0", "value": 15}, "value": 9}, "title": null}},
    "y": {"field": "y", "type": "quantitative", "scale": {"domain": [-4,4], "nice": false, "zero": false}, "axis": null}, "text": {"field": "t", "type": "nominal"}}}
 ],
 "resolve": {"axis": {"x": "independent", "y": "independent"}}},
{"width": 1130, "height": 800, "title": {"text": "Gaziantep", "dx": 118},
 "layer": [
  {"data": {"name": "gaz"}, "transform": [{"fold": ["p1","p2","p3","p4"]}], "mark": {"type": "line"},
   "encoding": {"x": {"field": "x", "type": "quantitative", "scale": {"domain": [1960,2025], "nice": false, "zero": false}, "axis": {"orient": "bottom", "values": [1960,1965,1970,1975,1980,1985,1990,1995,2000,2005,2010,2015,2020,2025], "format": "d", "labelExpr": "datum.value % 10 == 0 ? datum.label : ''", "grid": true, "tickSize": {"condition": {"test": "datum.value % 10 == 0", "value": 15}, "value": 9}, "labelPadding": 8, "title": null}},
    "y": {"field": "value", "type": "quantitative", "scale": {"domain": [-4,4], "nice": false, "zero": false}, "axis": {"orient": "left", "values": [-4,-3.5,-3,-2.5,-2,-1.5,-1,-0.5,0,0.5,1,1.5,2,2.5,3,3.5,4], "format": "d", "labelExpr": "datum.value % 1 == 0 ? datum.label : ''", "grid": true, "tickSize": {"condition": {"test": "datum.value % 1 == 0", "value": 15}, "value": 9}, "labelPadding": 9, "title": "CZI-1", "titlePadding": 1}},
    "order": [{"field": "x", "type": "quantitative"}, {"field": "key", "type": "ordinal"}]}},
  {"data": {"values": [{"v": 2.89036}, {"v": -2.68576}]}, "mark": {"type": "rule", "color": "#dc4c4c", "strokeWidth": 2},
   "encoding": {"y": {"field": "v", "type": "quantitative", "scale": {"domain": [-4,4], "nice": false, "zero": false}, "axis": {"orient": "right", "values": [-4,-3.5,-3,-2.5,-2,-1.5,-1,-0.5,0,0.5,1,1.5,2,2.5,3,3.5,4,0.12936,-0.80844], "labelExpr": "datum.value == 0.12936 ? '0,12936' : datum.value == -0.80844 ? '-0,80844' : ''", "labelAngle": 270, "labelAlign": {"condition": {"test": "datum.value < -0.3", "value": "right"}, "value": "left"}, "labelBaseline": "top", "labelFontSize": 40, "labelPadding": 18, "grid": false, "tickSize": {"condition": {"test": "datum.value % 1 == 0", "value": 15}, "value": 9}, "tickOpacity": {"condition": {"test": "datum.value % 0.5 != 0", "value": 0}, "value": 1}, "title": null}}}},
  {"data": {"values": [{"v": 0.12936}]}, "mark": {"type": "rule", "color": "#3b78c6", "strokeWidth": 3.2}, "encoding": {"y": {"field": "v", "type": "quantitative", "scale": {"domain": [-4,4], "nice": false, "zero": false}, "axis": null}}},
  {"data": {"values": [{"v": -0.80844}]}, "mark": {"type": "rule", "color": "#3b78c6", "strokeWidth": 3, "strokeDash": [13, 8]}, "encoding": {"y": {"field": "v", "type": "quantitative", "scale": {"domain": [-4,4], "nice": false, "zero": false}, "axis": null}}},
  {"data": {"values": [{"t": "Max 2,89036", "x": 2023.9, "y": 3.5}, {"t": "Min -2,68576", "x": 2023.5, "y": -3.26}]}, "mark": {"type": "text", "align": "right", "baseline": "middle", "fontSize": 39, "color": "black", "font": "Liberation Sans"},
   "encoding": {"x": {"field": "x", "type": "quantitative", "scale": {"domain": [1960,2025], "nice": false, "zero": false}, "axis": {"orient": "top", "values": [1960,1965,1970,1975,1980,1985,1990,1995,2000,2005,2010,2015,2020,2025], "labels": false, "grid": false, "tickSize": {"condition": {"test": "datum.value % 10 == 0", "value": 15}, "value": 9}, "title": null}},
    "y": {"field": "y", "type": "quantitative", "scale": {"domain": [-4,4], "nice": false, "zero": false}, "axis": null}, "text": {"field": "t", "type": "nominal"}}}
 ],
 "resolve": {"axis": {"x": "independent", "y": "independent"}}},
{"width": 1130, "height": 800, "title": {"text": "Kilis", "dx": 175},
 "layer": [
  {"data": {"name": "kil"}, "transform": [{"fold": ["p1","p2","p3","p4"]}], "mark": {"type": "line"},
   "encoding": {"x": {"field": "x", "type": "quantitative", "scale": {"domain": [1960,2025], "nice": false, "zero": false}, "axis": {"orient": "bottom", "values": [1960,1965,1970,1975,1980,1985,1990,1995,2000,2005,2010,2015,2020,2025], "format": "d", "labelExpr": "datum.value % 10 == 0 ? datum.label : ''", "grid": true, "tickSize": {"condition": {"test": "datum.value % 10 == 0", "value": 15}, "value": 9}, "labelPadding": 8, "title": null}},
    "y": {"field": "value", "type": "quantitative", "scale": {"domain": [-4,4], "nice": false, "zero": false}, "axis": {"orient": "left", "values": [-4,-3.5,-3,-2.5,-2,-1.5,-1,-0.5,0,0.5,1,1.5,2,2.5,3,3.5,4], "format": "d", "labelExpr": "datum.value % 1 == 0 ? datum.label : ''", "grid": true, "tickSize": {"condition": {"test": "datum.value % 1 == 0", "value": 15}, "value": 9}, "labelPadding": 9, "title": null}},
    "order": [{"field": "x", "type": "quantitative"}, {"field": "key", "type": "ordinal"}]}},
  {"data": {"values": [{"v": 2.79368}, {"v": -2.39885}]}, "mark": {"type": "rule", "color": "#dc4c4c", "strokeWidth": 2},
   "encoding": {"y": {"field": "v", "type": "quantitative", "scale": {"domain": [-4,4], "nice": false, "zero": false}, "axis": {"orient": "right", "values": [-4,-3.5,-3,-2.5,-2,-1.5,-1,-0.5,0,0.5,1,1.5,2,2.5,3,3.5,4,0.11594,-0.79783], "labelExpr": "datum.value == 0.11594 ? '0,11594' : datum.value == -0.79783 ? '-0,79783' : ''", "labelAngle": 270, "labelAlign": {"condition": {"test": "datum.value < -0.3", "value": "right"}, "value": "left"}, "labelBaseline": "top", "labelFontSize": 40, "labelPadding": 18, "grid": false, "tickSize": {"condition": {"test": "datum.value % 1 == 0", "value": 15}, "value": 9}, "tickOpacity": {"condition": {"test": "datum.value % 0.5 != 0", "value": 0}, "value": 1}, "title": null}}}},
  {"data": {"values": [{"v": 0.11594}]}, "mark": {"type": "rule", "color": "#3b78c6", "strokeWidth": 3.2}, "encoding": {"y": {"field": "v", "type": "quantitative", "scale": {"domain": [-4,4], "nice": false, "zero": false}, "axis": null}}},
  {"data": {"values": [{"v": -0.79783}]}, "mark": {"type": "rule", "color": "#3b78c6", "strokeWidth": 3, "strokeDash": [13, 8]}, "encoding": {"y": {"field": "v", "type": "quantitative", "scale": {"domain": [-4,4], "nice": false, "zero": false}, "axis": null}}},
  {"data": {"values": [{"t": "Max 2,79368", "x": 2023.9, "y": 3.38}, {"t": "Min -2,39885", "x": 2023.5, "y": -3.19}]}, "mark": {"type": "text", "align": "right", "baseline": "middle", "fontSize": 39, "color": "black", "font": "Liberation Sans"},
   "encoding": {"x": {"field": "x", "type": "quantitative", "scale": {"domain": [1960,2025], "nice": false, "zero": false}, "axis": {"orient": "top", "values": [1960,1965,1970,1975,1980,1985,1990,1995,2000,2005,2010,2015,2020,2025], "labels": false, "grid": false, "tickSize": {"condition": {"test": "datum.value % 10 == 0", "value": 15}, "value": 9}, "title": null}},
    "y": {"field": "y", "type": "quantitative", "scale": {"domain": [-4,4], "nice": false, "zero": false}, "axis": null}, "text": {"field": "t", "type": "nominal"}}}
 ],
 "resolve": {"axis": {"x": "independent", "y": "independent"}}},
{"width": 1130, "height": 800, "title": {"text": "Mardin", "dx": 148},
 "layer": [
  {"data": {"name": "mar"}, "transform": [{"fold": ["p1","p2","p3","p4"]}], "mark": {"type": "line"},
   "encoding": {"x": {"field": "x", "type": "quantitative", "scale": {"domain": [1960,2025], "nice": false, "zero": false}, "axis": {"orient": "bottom", "values": [1960,1965,1970,1975,1980,1985,1990,1995,2000,2005,2010,2015,2020,2025], "format": "d", "labelExpr": "datum.value % 10 == 0 ? datum.label : ''", "grid": true, "tickSize": {"condition": {"test": "datum.value % 10 == 0", "value": 15}, "value": 9}, "labelPadding": 8, "title": null}},
    "y": {"field": "value", "type": "quantitative", "scale": {"domain": [-4,4], "nice": false, "zero": false}, "axis": {"orient": "left", "values": [-4,-3.5,-3,-2.5,-2,-1.5,-1,-0.5,0,0.5,1,1.5,2,2.5,3,3.5,4], "format": "d", "labelExpr": "datum.value % 1 == 0 ? datum.label : ''", "grid": true, "tickSize": {"condition": {"test": "datum.value % 1 == 0", "value": 15}, "value": 9}, "labelPadding": 9, "title": "CZI-1", "titlePadding": 1}},
    "order": [{"field": "x", "type": "quantitative"}, {"field": "key", "type": "ordinal"}]}},
  {"data": {"values": [{"v": 2.74608}, {"v": -2.52089}]}, "mark": {"type": "rule", "color": "#dc4c4c", "strokeWidth": 2},
   "encoding": {"y": {"field": "v", "type": "quantitative", "scale": {"domain": [-4,4], "nice": false, "zero": false}, "axis": {"orient": "right", "values": [-4,-3.5,-3,-2.5,-2,-1.5,-1,-0.5,0,0.5,1,1.5,2,2.5,3,3.5,4,0.15746,-0.71548], "labelExpr": "datum.value == 0.15746 ? '0,15746' : datum.value == -0.71548 ? '-0,71548' : ''", "labelAngle": 270, "labelAlign": {"condition": {"test": "datum.value < -0.3", "value": "right"}, "value": "left"}, "labelBaseline": "top", "labelFontSize": 40, "labelPadding": 18, "grid": false, "tickSize": {"condition": {"test": "datum.value % 1 == 0", "value": 15}, "value": 9}, "tickOpacity": {"condition": {"test": "datum.value % 0.5 != 0", "value": 0}, "value": 1}, "title": null}}}},
  {"data": {"values": [{"v": 0.15746}]}, "mark": {"type": "rule", "color": "#3b78c6", "strokeWidth": 3.2}, "encoding": {"y": {"field": "v", "type": "quantitative", "scale": {"domain": [-4,4], "nice": false, "zero": false}, "axis": null}}},
  {"data": {"values": [{"v": -0.71548}]}, "mark": {"type": "rule", "color": "#3b78c6", "strokeWidth": 3, "strokeDash": [13, 8]}, "encoding": {"y": {"field": "v", "type": "quantitative", "scale": {"domain": [-4,4], "nice": false, "zero": false}, "axis": null}}},
  {"data": {"values": [{"t": "Max 2,74608", "x": 2022.8, "y": 3.48}, {"t": "Min -2,52089", "x": 2023.3, "y": -3.2}]}, "mark": {"type": "text", "align": "right", "baseline": "middle", "fontSize": 39, "color": "black", "font": "Liberation Sans"},
   "encoding": {"x": {"field": "x", "type": "quantitative", "scale": {"domain": [1960,2025], "nice": false, "zero": false}, "axis": {"orient": "top", "values": [1960,1965,1970,1975,1980,1985,1990,1995,2000,2005,2010,2015,2020,2025], "labels": false, "grid": false, "tickSize": {"condition": {"test": "datum.value % 10 == 0", "value": 15}, "value": 9}, "title": null}},
    "y": {"field": "y", "type": "quantitative", "scale": {"domain": [-4,4], "nice": false, "zero": false}, "axis": null}, "text": {"field": "t", "type": "nominal"}}}
 ],
 "resolve": {"axis": {"x": "independent", "y": "independent"}}},
{"width": 1130, "height": 800, "title": {"text": "Sanliurfa", "dx": 129},
 "layer": [
  {"data": {"name": "san"}, "transform": [{"fold": ["p1","p2","p3","p4"]}], "mark": {"type": "line"},
   "encoding": {"x": {"field": "x", "type": "quantitative", "scale": {"domain": [1960,2025], "nice": false, "zero": false}, "axis": {"orient": "bottom", "values": [1960,1965,1970,1975,1980,1985,1990,1995,2000,2005,2010,2015,2020,2025], "format": "d", "labelExpr": "datum.value % 10 == 0 ? datum.label : ''", "grid": true, "tickSize": {"condition": {"test": "datum.value % 10 == 0", "value": 15}, "value": 9}, "labelPadding": 8, "title": null}},
    "y": {"field": "value", "type": "quantitative", "scale": {"domain": [-4,4], "nice": false, "zero": false}, "axis": {"orient": "left", "values": [-4,-3.5,-3,-2.5,-2,-1.5,-1,-0.5,0,0.5,1,1.5,2,2.5,3,3.5,4], "format": "d", "labelExpr": "datum.value % 1 == 0 ? datum.label : ''", "grid": true, "tickSize": {"condition": {"test": "datum.value % 1 == 0", "value": 15}, "value": 9}, "labelPadding": 9, "title": null}},
    "order": [{"field": "x", "type": "quantitative"}, {"field": "key", "type": "ordinal"}]}},
  {"data": {"values": [{"v": 2.79327}, {"v": -2.96115}]}, "mark": {"type": "rule", "color": "#dc4c4c", "strokeWidth": 2},
   "encoding": {"y": {"field": "v", "type": "quantitative", "scale": {"domain": [-4,4], "nice": false, "zero": false}, "axis": {"orient": "right", "values": [-4,-3.5,-3,-2.5,-2,-1.5,-1,-0.5,0,0.5,1,1.5,2,2.5,3,3.5,4,0.23419,-0.61078], "labelExpr": "datum.value == 0.23419 ? '0,23419' : datum.value == -0.61078 ? '-0,61078' : ''", "labelAngle": 270, "labelAlign": {"condition": {"test": "datum.value < -0.3", "value": "right"}, "value": "left"}, "labelBaseline": "top", "labelFontSize": 40, "labelPadding": 18, "grid": false, "tickSize": {"condition": {"test": "datum.value % 1 == 0", "value": 15}, "value": 9}, "tickOpacity": {"condition": {"test": "datum.value % 0.5 != 0", "value": 0}, "value": 1}, "title": null}}}},
  {"data": {"values": [{"v": 0.23419}]}, "mark": {"type": "rule", "color": "#3b78c6", "strokeWidth": 3.2}, "encoding": {"y": {"field": "v", "type": "quantitative", "scale": {"domain": [-4,4], "nice": false, "zero": false}, "axis": null}}},
  {"data": {"values": [{"v": -0.61078}]}, "mark": {"type": "rule", "color": "#3b78c6", "strokeWidth": 3, "strokeDash": [13, 8]}, "encoding": {"y": {"field": "v", "type": "quantitative", "scale": {"domain": [-4,4], "nice": false, "zero": false}, "axis": null}}},
  {"data": {"values": [{"t": "Max 2,79327", "x": 2024.0, "y": 3.46}, {"t": "Min -2,96115", "x": 2024.2, "y": -3.45}]}, "mark": {"type": "text", "align": "right", "baseline": "middle", "fontSize": 39, "color": "black", "font": "Liberation Sans"},
   "encoding": {"x": {"field": "x", "type": "quantitative", "scale": {"domain": [1960,2025], "nice": false, "zero": false}, "axis": {"orient": "top", "values": [1960,1965,1970,1975,1980,1985,1990,1995,2000,2005,2010,2015,2020,2025], "labels": false, "grid": false, "tickSize": {"condition": {"test": "datum.value % 10 == 0", "value": 15}, "value": 9}, "title": null}},
    "y": {"field": "y", "type": "quantitative", "scale": {"domain": [-4,4], "nice": false, "zero": false}, "axis": null}, "text": {"field": "t", "type": "nominal"}}}
 ],
 "resolve": {"axis": {"x": "independent", "y": "independent"}}},
{"width": 1130, "height": 800, "title": {"text": "Siirt", "dx": 160},
 "layer": [
  {"data": {"name": "sii"}, "transform": [{"fold": ["p1","p2","p3","p4"]}], "mark": {"type": "line"},
   "encoding": {"x": {"field": "x", "type": "quantitative", "scale": {"domain": [1960,2025], "nice": false, "zero": false}, "axis": {"orient": "bottom", "values": [1960,1965,1970,1975,1980,1985,1990,1995,2000,2005,2010,2015,2020,2025], "format": "d", "labelExpr": "datum.value % 10 == 0 ? datum.label : ''", "grid": true, "tickSize": {"condition": {"test": "datum.value % 10 == 0", "value": 15}, "value": 9}, "labelPadding": 8, "title": null}},
    "y": {"field": "value", "type": "quantitative", "scale": {"domain": [-4,4], "nice": false, "zero": false}, "axis": {"orient": "left", "values": [-4,-3.5,-3,-2.5,-2,-1.5,-1,-0.5,0,0.5,1,1.5,2,2.5,3,3.5,4], "format": "d", "labelExpr": "datum.value % 1 == 0 ? datum.label : ''", "grid": true, "tickSize": {"condition": {"test": "datum.value % 1 == 0", "value": 15}, "value": 9}, "labelPadding": 9, "title": "CZI-1", "titlePadding": 1}},
    "order": [{"field": "x", "type": "quantitative"}, {"field": "key", "type": "ordinal"}]}},
  {"data": {"values": [{"v": 2.67408}, {"v": -2.62345}]}, "mark": {"type": "rule", "color": "#dc4c4c", "strokeWidth": 2},
   "encoding": {"y": {"field": "v", "type": "quantitative", "scale": {"domain": [-4,4], "nice": false, "zero": false}, "axis": {"orient": "right", "values": [-4,-3.5,-3,-2.5,-2,-1.5,-1,-0.5,0,0.5,1,1.5,2,2.5,3,3.5,4,0.06583,-0.84025], "labelExpr": "datum.value == 0.06583 ? '0,06583' : datum.value == -0.84025 ? '-0,84025' : ''", "labelAngle": 270, "labelAlign": {"condition": {"test": "datum.value < -0.3", "value": "right"}, "value": "left"}, "labelBaseline": "top", "labelFontSize": 40, "labelPadding": 18, "grid": false, "tickSize": {"condition": {"test": "datum.value % 1 == 0", "value": 15}, "value": 9}, "tickOpacity": {"condition": {"test": "datum.value % 0.5 != 0", "value": 0}, "value": 1}, "title": null}}}},
  {"data": {"values": [{"v": 0.06583}]}, "mark": {"type": "rule", "color": "#3b78c6", "strokeWidth": 3.2}, "encoding": {"y": {"field": "v", "type": "quantitative", "scale": {"domain": [-4,4], "nice": false, "zero": false}, "axis": null}}},
  {"data": {"values": [{"v": -0.84025}]}, "mark": {"type": "rule", "color": "#3b78c6", "strokeWidth": 3, "strokeDash": [13, 8]}, "encoding": {"y": {"field": "v", "type": "quantitative", "scale": {"domain": [-4,4], "nice": false, "zero": false}, "axis": null}}},
  {"data": {"values": [{"t": "Max 2,67408", "x": 2024.6, "y": 3.35}, {"t": "Min -2,62345", "x": 2024.6, "y": -3.07}]}, "mark": {"type": "text", "align": "right", "baseline": "middle", "fontSize": 39, "color": "black", "font": "Liberation Sans"},
   "encoding": {"x": {"field": "x", "type": "quantitative", "scale": {"domain": [1960,2025], "nice": false, "zero": false}, "axis": {"orient": "top", "values": [1960,1965,1970,1975,1980,1985,1990,1995,2000,2005,2010,2015,2020,2025], "labels": false, "grid": false, "tickSize": {"condition": {"test": "datum.value % 10 == 0", "value": 15}, "value": 9}, "title": null}},
    "y": {"field": "y", "type": "quantitative", "scale": {"domain": [-4,4], "nice": false, "zero": false}, "axis": null}, "text": {"field": "t", "type": "nominal"}}}
 ],
 "resolve": {"axis": {"x": "independent", "y": "independent"}}}
]
}
